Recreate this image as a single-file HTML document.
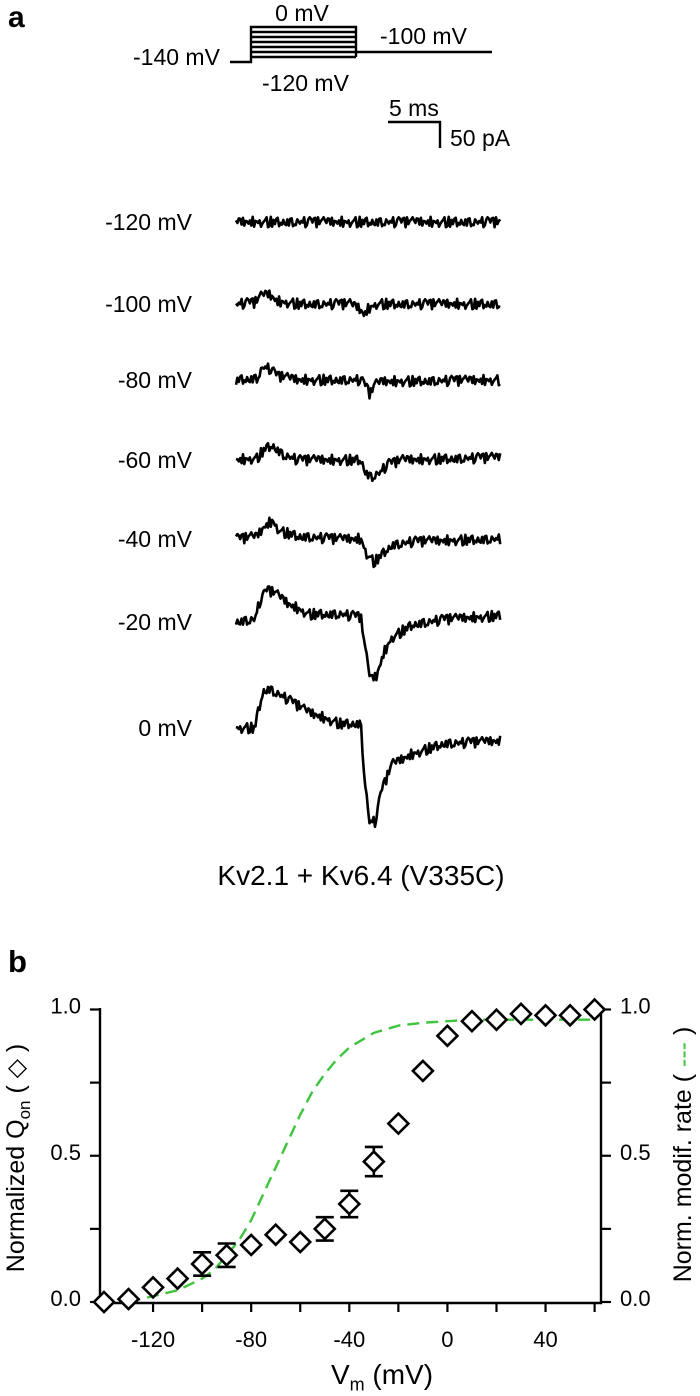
<!DOCTYPE html>
<html><head><meta charset="utf-8">
<style>
html,body{margin:0;padding:0;background:#fff;}
svg{display:block;font-family:"Liberation Sans",Arial,sans-serif;}
</style></head>
<body>
<svg id="fig" width="700" height="1395" viewBox="0 0 700 1395" xmlns="http://www.w3.org/2000/svg">
  <text x="8" y="27" font-size="30" font-weight="bold">a</text>
  <text x="8" y="972" font-size="31" font-weight="bold">b</text>

  <g id="protocol" stroke="#000" stroke-width="2.4" fill="none"></g>
  <g font-size="23">
    <text x="302" y="21" text-anchor="middle">0 mV</text>
    <text x="380" y="44">-100 mV</text>
    <text x="262" y="91">-120 mV</text>
    <text x="133" y="65">-140 mV</text>
  </g>
  <g>
    <path d="M388 122 H440 V148" stroke="#000" stroke-width="2.4" fill="none"/>
    <text x="389" y="116" font-size="23">5 ms</text>
    <text x="450" y="146" font-size="23">50 pA</text>
  </g>
  <g id="traces"></g>
  <text x="361" y="885" font-size="28" text-anchor="middle">Kv2.1 + Kv6.4 (V335C)</text>

  <g id="chartb"></g>
</svg>
<script>
// ---------- Panel a data ----------
const traceLabels = ["-120 mV","-100 mV","-80 mV","-60 mV","-40 mV","-20 mV","0 mV"];
const traceBaselineY = [222,304,380,460,539,622,728];
// key points [time ms, current pA]
const traceM120 = [[0,0],[25.4,0]];
const traceM100 = [[0,0],[1.8,3],[2.6,18],[3.2,18],[4,5],[6,0],[11,0],[11.8,-8],[12.3,-20],[12.8,-8],[13.5,0],[25.4,0]];
const traceM80 = [[0,0],[2,3],[2.6,25],[3.2,22],[4,8],[6,0],[12,0],[12.5,-12],[12.9,-28],[13.3,-10],[14,-3],[25.4,0]];
const traceM60 = [[0,0],[2,3],[2.8,22],[3.5,28],[4.5,10],[6,0],[12,0],[12.5,-25],[13,-33],[13.8,-25],[14.6,-8],[16,0],[25.4,5]];
const traceM40 = [[0,0],[2,5],[2.8,25],[3.5,35],[4.2,15],[6,5],[10,0],[12,0],[12.6,-30],[13.3,-45],[14,-30],[15,-12],[17,-5],[25.4,0]];
const traceM20 = [[0,0],[1.8,5],[2.3,40],[3,62],[3.8,55],[5,35],[7,15],[10,15],[12,10],[12.4,-50],[12.9,-110],[13.5,-105],[14.2,-60],[15,-30],[17,-5],[20,5],[25.4,12]];
const trace0 = [[0,0],[1.8,0],[2.0,20],[2.6,70],[3.2,75],[5,55],[7,30],[10,8],[12,8],[12.3,-80],[12.8,-180],[13.4,-180],[14,-120],[15,-70],[17,-50],[20,-30],[25.4,-25]];
const traceKeys = [traceM120,traceM100,traceM80,traceM60,traceM40,traceM20,trace0];
const noiseVals = [0.3,-0.6,0.9,-0.2,0.5,-1,0.7,0.1,-0.8,0.6,-0.3,1,-0.5,0.2,-0.9,0.8,-0.1,0.4,-0.7,0.9,-0.4,0.2,-1,0.6,0.1,-0.6,0.8,-0.3,0.5,-0.8,0.3,0.9,-0.2,-0.7,0.6,-0.5,1,-0.1,0.4,-0.9,0.7,-0.4,0.2,0.8,-0.6,0.1,-1,0.5,-0.2,0.9,-0.7,0.3,-0.4,0.6,-0.9,0.2,0.7,-0.3,0.5,-0.8,0.1,0.9,-0.5,0.4];

const NS="http://www.w3.org/2000/svg";
function mk(tag, attrs, parent){const e=document.createElementNS(NS,tag);for(const k in attrs)e.setAttribute(k,attrs[k]);parent.appendChild(e);return e;}

// protocol
const prot=document.getElementById('protocol');
const protoLevels=[27,32,37,42,47,52,57];
let pd="M230 62 H251 V27 H356 V57 M356 52 H492";
protoLevels.forEach(y=>{pd+=` M251 ${y} H356`;});
mk('path',{d:pd},prot);

// traces
const tx=t=>236+t*10.4;
const ty=(base,pA)=>base-pA*0.52;
function interp(keys,t){for(let i=0;i<keys.length-1;i++){if(t>=keys[i][0]&&t<=keys[i+1][0]){const f=(t-keys[i][0])/(keys[i+1][0]-keys[i][0]);return keys[i][1]+f*(keys[i+1][1]-keys[i][1]);}}return keys[keys.length-1][1];}
const tg=document.getElementById('traces');
traceKeys.forEach((keys,i)=>{
  const base=traceBaselineY[i];
  let d="";
  const n=190;
  for(let j=0;j<=n;j++){
    const t=25.4*j/n;
    const v=interp(keys,t)+10*noiseVals[(j*3+i*7)%noiseVals.length];
    d+=(j?"L":"M")+tx(t).toFixed(1)+" "+ty(base,v).toFixed(1);
  }
  const p=mk('path',{d:d,stroke:"#000","stroke-width":2.6,fill:"none","stroke-linejoin":"round"},tg);
  
  
  const lab=mk('text',{x:192,y:base+8,"font-size":23,"text-anchor":"end"},tg);
  lab.textContent=traceLabels[i];
  
  
});

// ---------- Panel b data ----------
const qVolt = [-140,-130,-120,-110,-100,-90,-80,-70,-60,-50,-40,-30,-20,-10,0,10,20,30,40,50,60];
const qVals = [0.0,0.01,0.05,0.08,0.13,0.16,0.195,0.23,0.205,0.25,0.335,0.48,0.61,0.79,0.91,0.96,0.965,0.985,0.98,0.98,1.0];
const qErr  = [0,0,0,0,0.04,0.04,0,0,0,0.04,0.045,0.05,0,0,0,0,0,0,0,0,0];
const rateVolt = [-130,-120,-110,-100,-95,-90,-85,-80,-75,-70,-65,-60,-55,-50,-45,-40,-30,-20,-10,0,10,20,30,40,50,60];
const rateVals = [0.0,0.02,0.04,0.08,0.11,0.16,0.21,0.28,0.37,0.46,0.55,0.64,0.72,0.78,0.83,0.87,0.92,0.945,0.955,0.96,0.965,0.965,0.965,0.965,0.965,0.965];
const xTicks = [-120,-100,-80,-60,-40,-20,0,20,40,60];
const xTickLabels = [-120,-80,-40,0,40];
const yTicks = [0,0.25,0.5,0.75,1.0];
const yTickLabels = ["0.0","0.5","1.0"];

const X=v=>104+(v+140)*2.453;
const Y=v=>1302-v*292.5;
const cb=document.getElementById('chartb');
const axL=100, axR=601, axB=1303, axT=1008;
let a=mk('path',{d:`M${axL} ${axT} V${axB} H${axR} V${axT}`,stroke:"#000","stroke-width":2.4,fill:"none"},cb);


xTicks.forEach(v=>{const t=mk('line',{x1:X(v),x2:X(v),y1:axB,y2:axB+9,stroke:"#000","stroke-width":2.2},cb);
  });
xTickLabels.forEach(v=>{const t=mk('text',{x:X(v),y:1347,"font-size":22,"text-anchor":"middle"},cb);t.textContent=v;
  });
yTicks.forEach(v=>{
  const t1=mk('line',{x1:axL-10,x2:axL,y1:Y(v),y2:Y(v),stroke:"#000","stroke-width":2.2},cb);
  
  const t2=mk('line',{x1:axR,x2:axR+10,y1:Y(v),y2:Y(v),stroke:"#000","stroke-width":2.2},cb);
  
});
yTickLabels.forEach(s=>{const v=parseFloat(s);
  const l=mk('text',{x:81,y:Y(v)+4,"font-size":22,"text-anchor":"end"},cb);l.textContent=s;
  
  const r=mk('text',{x:620,y:Y(v)+4,"font-size":22},cb);r.textContent=s;
  
});
// green curve
let gd="";rateVolt.forEach((v,i)=>{gd+=(i?"L":"M")+X(v).toFixed(1)+" "+Y(rateVals[i]).toFixed(1);});
const g=mk('path',{d:gd,stroke:"#3ec43e","stroke-width":2.4,fill:"none","stroke-dasharray":"12 7","stroke-linejoin":"round"},cb);


// data
qVolt.forEach((v,i)=>{
  const cx=X(v), cy=Y(qVals[i]);
  if(qErr[i]>0){
    const e=mk('path',{d:`M${cx} ${Y(qVals[i]+qErr[i])} V${Y(qVals[i]-qErr[i])} M${cx-9} ${Y(qVals[i]+qErr[i])} H${cx+9} M${cx-9} ${Y(qVals[i]-qErr[i])} H${cx+9}`,stroke:"#000","stroke-width":2.6,fill:"none"},cb);
    
    
  }
  const d=mk('path',{d:`M${cx} ${cy-10} L${cx+10} ${cy} L${cx} ${cy+10} L${cx-10} ${cy} Z`,stroke:"#000","stroke-width":2.6,fill:"#fff"},cb);
  
  
});
</script>
<div style="position:absolute;left:0;top:0;width:700px;height:1395px;pointer-events:none;">
  <div style="position:absolute;left:-122px;top:1141px;width:280px;text-align:center;transform:rotate(-90deg);font:25px 'Liberation Sans',sans-serif;white-space:nowrap;">Normalized Q<sub style="font-size:17px">on</sub> ( ◇ )</div>
  <div style="position:absolute;left:536px;top:1140px;width:295px;text-align:center;transform:rotate(-90deg);font:25px 'Liberation Sans',sans-serif;white-space:nowrap;">Norm. modif. rate ( <span style="color:#3ec43e">---</span> )</div>
  <div style="position:absolute;left:282px;top:1359px;width:200px;text-align:center;font:28px 'Liberation Sans',sans-serif;">V<sub style="font-size:18px">m</sub> (mV)</div>
</div>
</body></html>
